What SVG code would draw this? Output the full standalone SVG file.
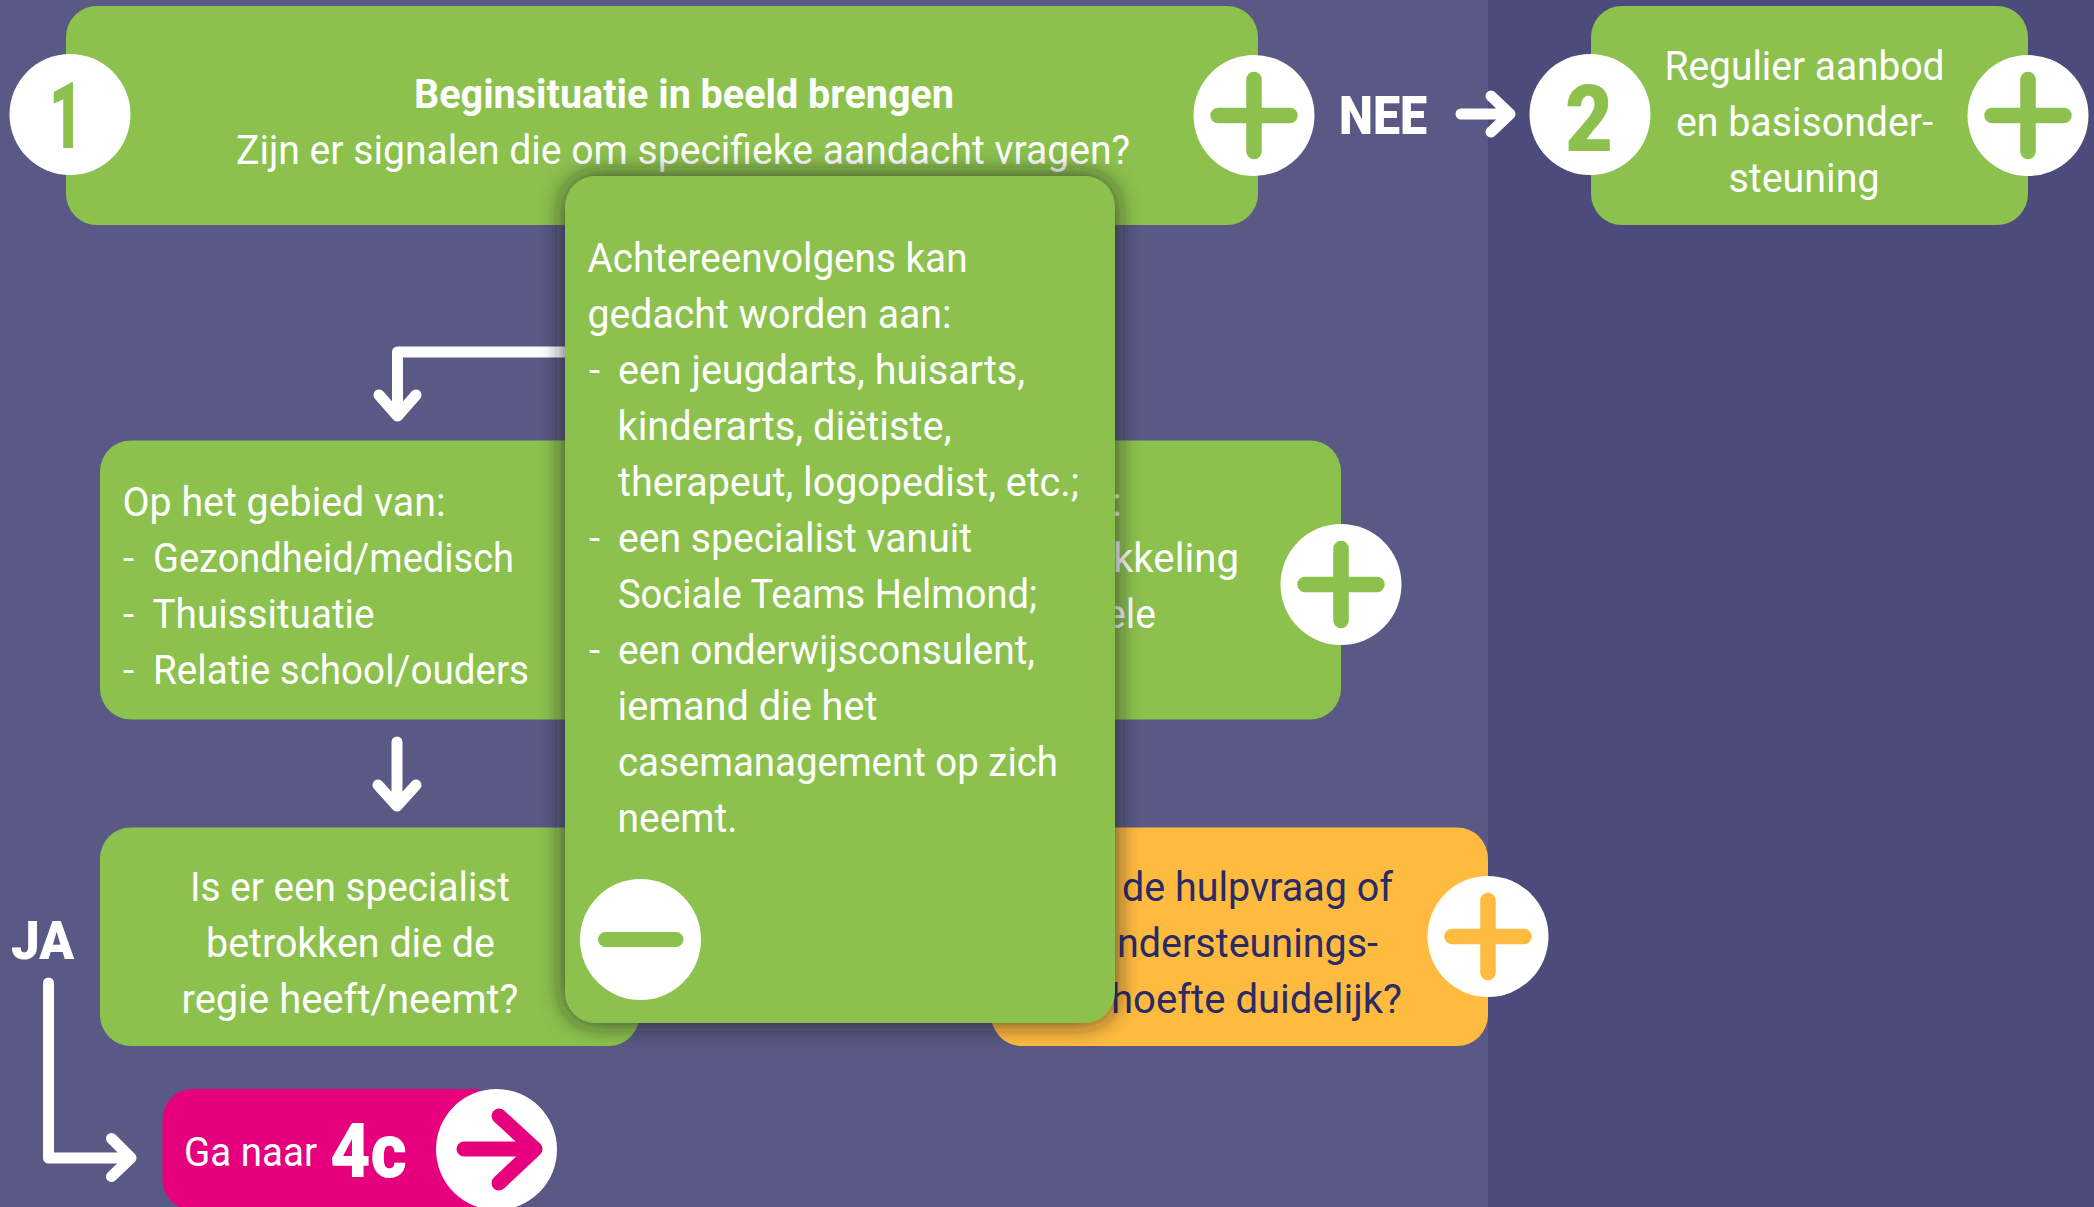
<svg xmlns="http://www.w3.org/2000/svg" width="2094" height="1207" viewBox="0 0 2094 1207">
<style>
text{font-family:"Roboto","Liberation Sans",sans-serif;font-size:40px;fill:#fff}
.b{font-weight:700}
.d{fill:#2a2a66}
.box{fill:#8cc14e}
.arrow{fill:none;stroke:#fff;stroke-width:11;stroke-linecap:round;stroke-linejoin:round}
.num{font-size:92px;font-weight:900;fill:#8cc14e}
.big{font-size:53px;font-weight:900}
</style>
<defs>
<filter id="pop" x="-15%" y="-15%" width="130%" height="130%"><feDropShadow dx="0" dy="0" stdDeviation="12" flood-color="#1c1c1c" flood-opacity=".8"/></filter>
<g id="plus"><circle r="60.5" fill="#fff"/><path d="M-36,0H36M0,-36V36" fill="none" stroke="currentColor" stroke-width="15.5" stroke-linecap="round"/></g>
</defs>
<rect width="1488" height="1207" fill="#5a5985"/>
<rect x="1488" width="606" height="1207" fill="#4d4b7b"/>
<g id="connectors">
<path class="arrow" d="M570,352H397.5V416M379,395L397.5,416L416,395"/>
<path class="arrow" d="M397,742V806M378,785L397,806L416,785"/>
<path class="arrow" d="M1461,114H1510M1491,96L1510,114L1491,132"/>
<path class="arrow" d="M48.5,983V1158H131M111.500,1138.500L131,1158L111.500,1176.500"/>
</g>
<g id="node-1">
<rect class="box" x="66" y="6" width="1192" height="219" rx="31"/>
<circle cx="70" cy="114.500" r="60.500" fill="#fff"/>
<text class="num" x="49" y="148" textLength="34" lengthAdjust="spacingAndGlyphs">1</text>
<text class="b" x="414" y="108" textLength="540" lengthAdjust="spacingAndGlyphs">Beginsituatie in beeld brengen</text>
<text x="236" y="164" textLength="894" lengthAdjust="spacingAndGlyphs">Zijn er signalen die om specifieke aandacht vragen?</text>
<use href="#plus" x="1254" y="115.500" style="color:#8cc14e"/>
</g>
<g id="label-nee"><text class="big" x="1339" y="134" textLength="88" lengthAdjust="spacingAndGlyphs">NEE</text></g>
<g id="node-2">
<rect class="box" x="1591" y="6" width="437" height="219" rx="31"/>
<text x="1664.500" y="80" textLength="280" lengthAdjust="spacingAndGlyphs">Regulier aanbod</text>
<text x="1676" y="136" textLength="257" lengthAdjust="spacingAndGlyphs">en basisonder-</text>
<text x="1728.500" y="192" textLength="151" lengthAdjust="spacingAndGlyphs">steuning</text>
<circle cx="1590" cy="114.500" r="60.500" fill="#fff"/>
<text class="num" x="1565" y="151" textLength="48" lengthAdjust="spacingAndGlyphs">2</text>
<use href="#plus" x="2028" y="115.500" style="color:#8cc14e"/>
</g>
<g id="node-gebied">
<rect class="box" x="100" y="440.500" width="1241" height="279" rx="31"/>
<text x="122.500" y="516" textLength="323" lengthAdjust="spacingAndGlyphs">Op het gebied van:</text>
<text x="123" y="572" textLength="13">-</text>
<text x="153" y="572" textLength="361" lengthAdjust="spacingAndGlyphs">Gezondheid/medisch</text>
<text x="123" y="628" textLength="13">-</text>
<text x="152.500" y="628" textLength="222" lengthAdjust="spacingAndGlyphs">Thuissituatie</text>
<text x="123" y="684" textLength="13">-</text>
<text x="153" y="684" textLength="376" lengthAdjust="spacingAndGlyphs">Relatie school/ouders</text>
<text x="1112" y="516">:</text>
<text x="1113" y="572" textLength="126" lengthAdjust="spacingAndGlyphs">kkeling</text>
<text x="1105" y="628" textLength="51" lengthAdjust="spacingAndGlyphs">ele</text>
<use href="#plus" x="1341" y="584.500" style="color:#8cc14e"/>
</g>
<g id="node-specialist">
<rect class="box" x="100" y="827.500" width="539.500" height="218.500" rx="31"/>
<text x="190" y="901" textLength="320" lengthAdjust="spacingAndGlyphs">Is er een specialist</text>
<text x="206" y="957" textLength="289" lengthAdjust="spacingAndGlyphs">betrokken die de</text>
<text x="181.500" y="1013" textLength="337" lengthAdjust="spacingAndGlyphs">regie heeft/neemt?</text>
</g>
<g id="label-ja"><text class="big" x="11" y="959" textLength="63" lengthAdjust="spacingAndGlyphs">JA</text></g>
<g id="node-hulpvraag">
<rect x="991" y="827.500" width="497" height="218.500" rx="31" fill="#ffbb40"/>
<text class="d" x="1122" y="901" textLength="271" lengthAdjust="spacingAndGlyphs">de hulpvraag of</text>
<text class="d" x="1117" y="957" textLength="261" lengthAdjust="spacingAndGlyphs">ndersteunings-</text>
<text class="d" x="1111" y="1013" textLength="291" lengthAdjust="spacingAndGlyphs">hoefte duidelijk?</text>
<use href="#plus" x="1488" y="936.500" style="color:#ffbb40"/>
</g>
<g id="node-4c">
<rect x="162.500" y="1089" width="340" height="121" rx="30" fill="#e6007e"/>
<text x="184" y="1166" textLength="133" lengthAdjust="spacingAndGlyphs">Ga naar</text>
<text style="font-size:76px;font-weight:900" x="330" y="1177" textLength="77" lengthAdjust="spacingAndGlyphs">4c</text>
<circle cx="496.500" cy="1149.500" r="60.500" fill="#fff"/>
<path d="M464,1149H535M499,1116L535,1149L499,1183" fill="none" stroke="#e6007e" stroke-width="15" stroke-linecap="round" stroke-linejoin="round"/>
</g>
<g id="node-popup">
<rect class="box" x="565" y="176" width="550" height="847" rx="31" filter="url(#pop)"/>
<text x="587.500" y="272" textLength="380" lengthAdjust="spacingAndGlyphs">Achtereenvolgens kan</text>
<text x="587.500" y="328" textLength="364" lengthAdjust="spacingAndGlyphs">gedacht worden aan:</text>
<text x="589" y="384" textLength="11">-</text>
<text x="618" y="384" textLength="407" lengthAdjust="spacingAndGlyphs">een jeugdarts, huisarts,</text>
<text x="617.500" y="440" textLength="334" lengthAdjust="spacingAndGlyphs">kinderarts, diëtiste,</text>
<text x="618" y="496" textLength="461" lengthAdjust="spacingAndGlyphs">therapeut, logopedist, etc.;</text>
<text x="589" y="552" textLength="11">-</text>
<text x="618" y="552" textLength="354" lengthAdjust="spacingAndGlyphs">een specialist vanuit</text>
<text x="618" y="608" textLength="419" lengthAdjust="spacingAndGlyphs">Sociale Teams Helmond;</text>
<text x="589" y="664" textLength="11">-</text>
<text x="618" y="664" textLength="417" lengthAdjust="spacingAndGlyphs">een onderwijsconsulent,</text>
<text x="617.500" y="720" textLength="260" lengthAdjust="spacingAndGlyphs">iemand die het</text>
<text x="618" y="776" textLength="440" lengthAdjust="spacingAndGlyphs">casemanagement op zich</text>
<text x="617.500" y="832" textLength="120" lengthAdjust="spacingAndGlyphs">neemt.</text>
<circle cx="640.500" cy="939.500" r="60.500" fill="#fff"/>
<path d="M605.500,939.500H676" fill="none" stroke="#8cc14e" stroke-width="15" stroke-linecap="round"/>
</g>
</svg>
